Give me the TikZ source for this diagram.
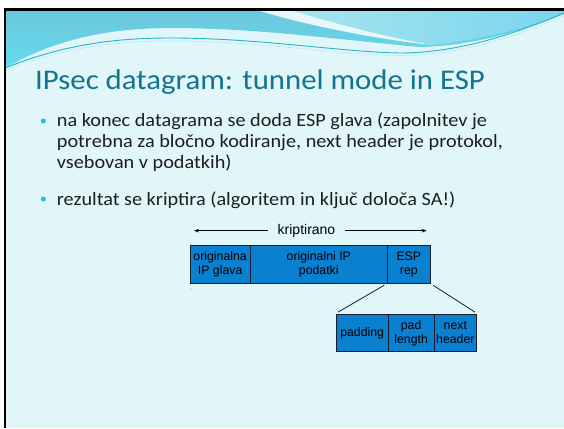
\documentclass[tikz,border=0pt]{standalone}
\usepackage{fontspec}
\setmainfont{Carlito}[FakeStretch=1.08]
\newfontfamily\arialf{Liberation Sans}
\usetikzlibrary{arrows.meta}
\definecolor{bodyc}{RGB}{225,246,249}
\definecolor{hdtop}{RGB}{108,198,222}
\definecolor{hdbot}{RGB}{100,220,236}
\definecolor{hdlight}{RGB}{165,229,238}
\definecolor{hdright}{RGB}{124,212,238}
\definecolor{ribbon}{RGB}{40,180,200}
\definecolor{titlec}{RGB}{18,116,144}
\definecolor{textc}{RGB}{30,30,30}
\definecolor{bulc}{RGB}{37,188,217}
\definecolor{boxc}{RGB}{10,128,208}
\definecolor{boxline}{RGB}{25,30,45}
\tikzset{
  fbox/.style={draw=boxline, line width=0.9pt, fill=boxc, inner sep=0pt, align=center,
    font=\arialf\fontsize{12.3}{14}\selectfont, text=black},
  bul/.style={circle, fill=bulc, inner sep=0pt, minimum size=5pt},
  btext/.style={anchor=base west, inner sep=0pt, text=textc,
    font=\fontsize{18.75}{22}\selectfont},
  link/.style={draw=boxline, line width=0.8pt},
  arr/.style={draw=black, line width=0.8pt, -{Stealth[length=5pt,width=3.5pt]}}
}
\begin{document}
\begin{tikzpicture}[x=1pt,y=-1pt]
\useasboundingbox (0,0) rectangle (564,428);
\fill[white] (0,0) rectangle (564,428);
\fill[bodyc] (5,10) rectangle (564,428);
% header band
\shade[top color=hdtop, bottom color=hdbot]
  (5,10) -- (564,10) -- (564,14) .. controls (520,32) and (470,46) .. (420,47)
  .. controls (340,40) and (260,28) .. (170,28) .. controls (90,28) and (40,48) .. (5,68) -- cycle;
% right light region
\shade[left color=hdlight, right color=hdright]
  (290,10) -- (564,10) -- (564,14) .. controls (520,30) and (480,40) .. (432,45)
  .. controls (380,36) and (330,22) .. (290,10) -- cycle;
% white streak
\fill[white, opacity=0.85]
  (257,10) -- (290,10) .. controls (330,22) and (380,36) .. (432,45)
  .. controls (380,40) and (300,24) .. (257,10) -- cycle;
% ribbon lines
\draw[ribbon, line width=0.9pt]
  (5,68) .. controls (60,46) and (110,38) .. (170,38) .. controls (260,38) and (340,52) .. (400,53)
  .. controls (460,53) and (520,32) .. (564,13);
\draw[white!70!ribbon, line width=0.6pt]
  (5,70) .. controls (60,49) and (110,41) .. (170,41) .. controls (260,41) and (340,55) .. (400,55.5)
  .. controls (460,55.5) and (520,35) .. (564,16);
% border
\fill[black] (3.5,8.5) rectangle (564,11);
\fill[black] (3.5,8.5) rectangle (6,428);
% title
\node[anchor=base west, inner sep=0pt, text=titlec, font=\fontsize{28.5}{32}\selectfont]
  (title) at (35,89.3) {IPsec datagram: tunnel mode in ESP};
% bullets
\node[bul] (d1) at (43.3,121) {};
\node[btext] (b1a) at (56.7,126.7) {na konec datagrama se doda ESP glava (zapolnitev je};
\node[btext] (b1b) at (56.7,147.5) {potrebna za bločno kodiranje, next header je protokol,};
\node[btext] (b1c) at (56.7,168.3) {vsebovan v podatkih)};
\node[bul] (d2) at (43.3,199) {};
\node[btext] (b2) at (56.7,205) {rezultat se kriptira (algoritem in ključ določa SA!)};
% diagram top row
\node[fbox, minimum width=60.3pt, minimum height=38.3pt] (oh) at (220.15,264.15) {originalna\\IP glava};
\node[fbox, minimum width=137pt, minimum height=38.3pt] (od) at (318.8,264.15) {originalni IP\\podatki};
\node[fbox, minimum width=43pt, minimum height=38.3pt] (er) at (408.8,264.15) {ESP\\rep};
% kriptirano
\node[inner sep=0pt, minimum width=77pt, font=\arialf\fontsize{14}{16}\selectfont] (kr) at (306.5,230.7) {kriptirano};
\coordinate (kl) at (194,230.7);
\coordinate (krr) at (426.7,230.7);
\draw[arr] (kr.west) -- (kl);
\draw[arr] (kr.east) -- (krr);
% small dot
\node[circle, fill=gray!60, inner sep=0pt, minimum size=1.3pt] (dot) at (191,289) {};
% lower row
\node[fbox, minimum width=52.3pt, minimum height=37.7pt] (pd) at (362.15,332.85) {padding};
\node[fbox, minimum width=45.7pt, minimum height=37.7pt] (pl) at (411.15,332.85) {pad\\length};
\node[fbox, minimum width=42.7pt, minimum height=37.7pt] (nh) at (455.35,332.85) {next\\header};
\draw[link, shorten <=3pt, shorten >=3pt] (er.south west) -- (pd.north west);
\draw[link, shorten <=3pt, shorten >=2.5pt] (er.south east) -- (nh.north east);
\end{tikzpicture}
\end{document}
